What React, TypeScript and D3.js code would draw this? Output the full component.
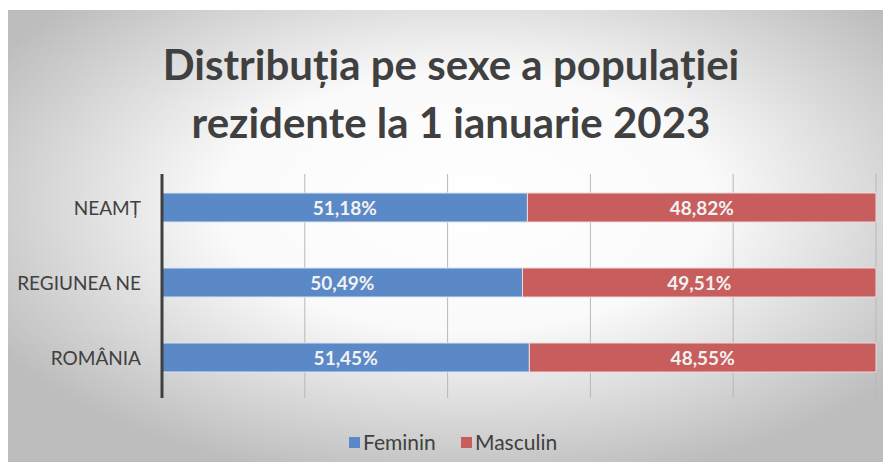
import React from "react";
import * as d3 from "d3";

const categories = ["NEAMȚ", "REGIUNEA NE", "ROMÂNIA"];
const feminin = [51.18, 50.49, 51.45];
const masculin = [48.82, 49.51, 48.55];
const seriesNames = ["Feminin", "Masculin"];
const seriesColors = ["#5b88c6", "#c75d5c"];
const xTicks = [0, 20, 40, 60, 80, 100];
const titleLines = ["Distribuția pe sexe a populației", "rezidente la 1 ianuarie 2023"];

const W = 891;
const H = 470;
const FONT = "Lato, 'Open Sans', sans-serif";

export default function App() {
  const x = d3.scaleLinear().domain([0, 100]).range([162, 876]);
  const y = d3.scaleBand().domain(categories).range([170, 395]).paddingInner(0.613).paddingOuter(0.3065);
  const fmt = (v: number) => v.toFixed(2).replace(".", ",") + "%";
  const rows = categories.map((c, i) => ({ c, vals: [feminin[i], masculin[i]] }));

  return (
    <div style={{ margin: -8, width: W, height: H, overflow: "hidden" }}>
      <svg width={W} height={H} style={{ display: "block" }}>
        <defs>
          <radialGradient id="bg" cx="52%" cy="42%" r="62%" fx="52%" fy="42%">
            <stop offset="0" stopColor="#ffffff" />
            <stop offset="0.45" stopColor="#fafafa" />
            <stop offset="1" stopColor="#bdbdbd" />
          </radialGradient>
        </defs>
        <rect x={0} y={0} width={W} height={H} fill="#ffffff" />
        <rect x={7} y={10} width={W - 7} height={H - 11} fill="url(#bg)" />
        {titleLines.map((t, i) => (
          <text
            key={i}
            x={451}
            y={80 + i * 58}
            textAnchor="middle"
            fontFamily={FONT}
            fontWeight={700}
            fontSize={42}
            fill="#404040"
          >
            {t}
          </text>
        ))}
        {xTicks.slice(1).map((t) => (
          <line key={t} x1={x(t)} x2={x(t)} y1={174} y2={398} stroke="#b8b8b8" strokeWidth={1} />
        ))}
        {rows.map((r) => {
          let acc = 0;
          return (
            <g key={r.c}>
              {r.vals.map((v, j) => {
                const x0 = x(acc);
                acc += v;
                const x1 = x(acc);
                return (
                  <g key={j}>
                    <rect
                      x={x0}
                      y={y(r.c)!}
                      width={x1 - x0}
                      height={y.bandwidth()}
                      fill={seriesColors[j]}
                      stroke={j === 0 ? "#dce6f3" : "#f3dada"}
                      strokeWidth={1}
                    />
                    <text
                      x={(x0 + x1) / 2}
                      y={y(r.c)! + y.bandwidth() / 2 + 7}
                      textAnchor="middle"
                      fontFamily={FONT}
                      fontWeight={700}
                      fontSize={19}
                      fill="#f2f2f2"
                    >
                      {fmt(v)}
                    </text>
                  </g>
                );
              })}
              <text
                x={141}
                y={y(r.c)! + y.bandwidth() / 2 + 7}
                textAnchor="end"
                fontFamily={FONT}
                fontSize={19}
                fill="#404040"
              >
                {r.c}
              </text>
            </g>
          );
        })}
        <line x1={162} x2={162} y1={174} y2={398} stroke="#404040" strokeWidth={3} />
        <g>
          <rect x={349} y={437} width={11} height={11} fill={seriesColors[0]} />
          <text x={363} y={450} fontFamily={FONT} fontSize={21} fill="#404040">
            {seriesNames[0]}
          </text>
          <rect x={461} y={437} width={11} height={11} fill={seriesColors[1]} />
          <text x={475} y={450} fontFamily={FONT} fontSize={21} fill="#404040">
            {seriesNames[1]}
          </text>
        </g>
      </svg>
    </div>
  );
}
